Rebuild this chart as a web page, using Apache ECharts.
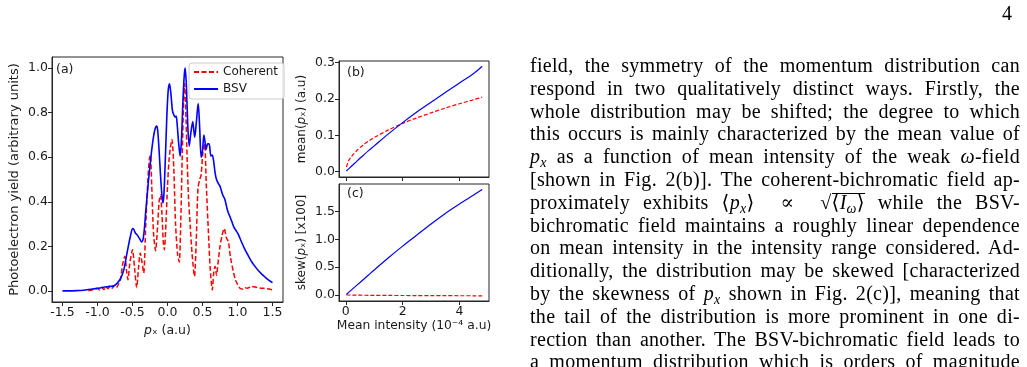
<!DOCTYPE html>
<html><head><meta charset="utf-8">
<script src="https://cdn.jsdelivr.net/npm/echarts@6/dist/echarts.min.js"></script>
<style>
html,body{margin:0;padding:0;background:#fff;}
#chart{position:absolute;left:0;top:0;width:1027px;height:367px;}
#page{position:absolute;left:0;top:0;width:1027px;height:367px;overflow:hidden;font-family:"Liberation Serif","DejaVu Serif",serif;color:#000;pointer-events:none;}
.ln{position:absolute;left:530px;width:490px;font-size:20px;line-height:22px;height:22px;white-space:nowrap;letter-spacing:0.3px;}
.ln span.t{display:inline-block;white-space:nowrap;}
sub{font-size:0.7em;vertical-align:-0.3em;line-height:0;}
.ov{display:inline-block;border-top:1px solid #000;line-height:17px;padding-top:0;}
#pg{position:absolute;left:1002px;top:2px;font-size:20px;}
</style></head>
<body>
<div id="chart"></div>
<div id="page">
<div id="pg">4</div>
<div class="ln" style="top:54px"><span class="t">field, the symmetry of the momentum distribution can</span></div>
<div class="ln" style="top:77px"><span class="t">respond in two qualitatively distinct ways. Firstly, the</span></div>
<div class="ln" style="top:100px"><span class="t">whole distribution may be shifted; the degree to which</span></div>
<div class="ln" style="top:122px"><span class="t">this occurs is mainly characterized by the mean value of</span></div>
<div class="ln" style="top:145px"><span class="t"><i>p</i><sub><i>x</i></sub> as a function of mean intensity of the weak <i>ω</i>-field</span></div>
<div class="ln" style="top:168px"><span class="t">[shown in Fig. 2(b)]. The coherent-bichromatic field ap-</span></div>
<div class="ln" style="top:191px"><span class="t">proximately exhibits ⟨<i>p</i><sub><i>x</i></sub>⟩ &nbsp;∝&nbsp; √<span class="ov">⟨<i>I</i><sub><i>ω</i></sub>⟩</span> while the BSV-</span></div>
<div class="ln" style="top:214px"><span class="t">bichromatic field maintains a roughly linear dependence</span></div>
<div class="ln" style="top:236px"><span class="t">on mean intensity in the intensity range considered. Ad-</span></div>
<div class="ln" style="top:259px"><span class="t">ditionally, the distribution may be skewed [characterized</span></div>
<div class="ln" style="top:282px"><span class="t">by the skewness of <i>p</i><sub><i>x</i></sub> shown in Fig. 2(c)], meaning that</span></div>
<div class="ln" style="top:305px"><span class="t">the tail of the distribution is more prominent in one di-</span></div>
<div class="ln" style="top:328px"><span class="t">rection than another. The BSV-bichromatic field leads to</span></div>
<div class="ln" style="top:350px"><span class="t">a momentum distribution which is orders of magnitude</span></div>
</div>
<script>
// ---- Panel (a): photoelectron yield vs p_x ----
const pxBsv = [-1.5,-1.4,-1.3,-1.2,-1.1,-1.0,-0.95,-0.9,-0.85,-0.8,-0.77,-0.74,-0.71,-0.68,-0.65,-0.62,-0.59,-0.56,-0.53,-0.50,-0.48,-0.46,-0.43,-0.40,-0.37,-0.35,-0.33,-0.31,-0.29,-0.27,-0.25,-0.23,-0.21,-0.19,-0.17,-0.155,-0.14,-0.12,-0.10,-0.08,-0.065,-0.05,-0.03,-0.01,0.01,0.03,0.05,0.07,0.09,0.11,0.125,0.14,0.16,0.18,0.20,0.22,0.24,0.253,0.27,0.29,0.31,0.33,0.36,0.38,0.39,0.41,0.43,0.44,0.46,0.48,0.50,0.52,0.54,0.55,0.575,0.595,0.62,0.64,0.66,0.68,0.70,0.73,0.75,0.77,0.79,0.82,0.85,0.87,0.89,0.92,0.95,0.98,1.01,1.05,1.1,1.15,1.2,1.25,1.3,1.35,1.4,1.45,1.5];
const yBsv = [0.0,0.0,0.001,0.003,0.007,0.011,0.014,0.017,0.019,0.021,0.022,0.028,0.038,0.05,0.07,0.1,0.15,0.2,0.245,0.28,0.275,0.26,0.25,0.235,0.22,0.23,0.28,0.36,0.43,0.5,0.56,0.62,0.67,0.71,0.735,0.74,0.72,0.63,0.52,0.43,0.395,0.44,0.6,0.78,0.9,0.93,0.88,0.81,0.79,0.78,0.785,0.74,0.66,0.605,0.68,0.85,0.97,1.0,0.92,0.74,0.65,0.7,0.76,0.71,0.69,0.75,0.82,0.84,0.73,0.6,0.63,0.70,0.66,0.635,0.66,0.66,0.605,0.61,0.58,0.53,0.50,0.48,0.47,0.45,0.43,0.41,0.37,0.35,0.335,0.31,0.285,0.27,0.255,0.225,0.19,0.16,0.132,0.11,0.09,0.074,0.06,0.047,0.037];
const pxCoh = [-1.13,-1.08,-1.04,-1.0,-0.97,-0.94,-0.91,-0.88,-0.85,-0.82,-0.79,-0.76,-0.73,-0.70,-0.67,-0.64,-0.61,-0.585,-0.565,-0.54,-0.50,-0.47,-0.44,-0.415,-0.39,-0.365,-0.34,-0.31,-0.28,-0.26,-0.245,-0.225,-0.2,-0.17,-0.14,-0.12,-0.10,-0.08,-0.06,-0.045,-0.02,0.0,0.02,0.04,0.064,0.09,0.115,0.145,0.168,0.19,0.21,0.23,0.245,0.26,0.28,0.30,0.325,0.35,0.385,0.41,0.435,0.46,0.48,0.505,0.53,0.555,0.585,0.61,0.64,0.66,0.68,0.70,0.72,0.75,0.78,0.81,0.84,0.87,0.90,0.94,0.97,1.0,1.035,1.07,1.1,1.14,1.2,1.28,1.35,1.42,1.5];
const yCoh = [0.0,0.004,0.008,0.012,0.004,0.015,0.006,0.018,0.01,0.022,0.012,0.024,0.015,0.03,0.055,0.12,0.155,0.09,0.05,0.12,0.185,0.1,0.015,0.1,0.17,0.13,0.08,0.3,0.5,0.59,0.61,0.47,0.26,0.18,0.3,0.4,0.43,0.35,0.22,0.185,0.32,0.47,0.58,0.64,0.68,0.55,0.3,0.16,0.13,0.32,0.6,0.85,0.93,0.82,0.6,0.42,0.29,0.17,0.065,0.22,0.46,0.5,0.52,0.62,0.66,0.47,0.26,0.1,0.005,0.08,0.11,0.07,0.12,0.2,0.25,0.28,0.24,0.22,0.15,0.087,0.05,0.03,0.012,0.008,0.015,0.012,0.02,0.015,0.012,0.01,0.005];
// ---- Panels (b),(c): vs mean intensity (1e-4 a.u) ----
const intensity = [0.02,0.1,0.2,0.4,0.6,0.8,1.0,1.5,2.0,2.5,3.0,3.5,4.0,4.5,4.8];
const meanCoh = [0.013,0.03,0.042,0.059,0.073,0.084,0.094,0.115,0.133,0.148,0.162,0.175,0.187,0.198,0.205];
const meanBsv = [0.002,0.008,0.015,0.03,0.044,0.058,0.071,0.104,0.135,0.164,0.191,0.218,0.244,0.27,0.29];
const skewCoh = [0,-0.002,-0.003,-0.005,-0.006,-0.007,-0.008,-0.01,-0.011,-0.012,-0.013,-0.014,-0.015,-0.016,-0.017];
const skewBsv = [0.01,0.045,0.09,0.18,0.27,0.36,0.45,0.67,0.88,1.08,1.28,1.47,1.64,1.8,1.9];
// ---- tick labels ----
const ticksAx = [-1.5,-1.0,-0.5,0.0,0.5,1.0,1.5];
const ticksAy = [0.0,0.2,0.4,0.6,0.8,1.0];
const ticksBy = [0.0,0.1,0.2,0.3];
const ticksCy = [0.0,0.5,1.0,1.5];
const ticksBCx = [0,2,4];

// justify each text line to the column width
(function(){
  document.querySelectorAll('.ln').forEach(function(ln){
    const t = ln.querySelector('.t');
    const w = t.getBoundingClientRect().width;
    const n = (t.textContent.match(/[ \u00a0]/g) || []).length;
    if (n > 0) t.style.wordSpacing = ((490 - w) / n).toFixed(2) + 'px';
  });
})();

const AX = '#262626', TXT = '#1a1a1a', FF = 'DejaVu Sans';
const RED = '#ff0000', BLUE = '#0000ff';
function pairs(xs, ys){ return xs.map((x,i)=>[x, ys[i]]); }
function gridCfg(l,t,w,h){ return {left:l, top:t, width:w, height:h, show:true, borderColor:AX, borderWidth:1, containLabel:false, outerBoundsMode:'none'}; }
function axis(gi, min, max, ticks, fmt, showLabels, extra){
  return Object.assign({
    gridIndex:gi, type:'value', min:min, max:max,
    axisLine:{show:true, onZero:false, lineStyle:{color:AX, width:1}},
    splitLine:{show:false},
    axisTick:{show:true, customValues:ticks, length:4, inside:false, lineStyle:{color:AX, width:1}},
    axisLabel:{show:showLabels, customValues:ticks, formatter:fmt, fontSize:12.5, color:TXT, fontFamily:FF, margin:4},
  }, extra||{});
}
function nameStyle(fs){ return {fontSize:fs, color:TXT, fontFamily:FF,
  rich:{n:{fontSize:fs, color:TXT, fontFamily:FF}, i:{fontSize:fs, color:TXT, fontFamily:FF, fontStyle:'italic'}}}; }
const f1 = v => v.toFixed(1);

const chart = echarts.init(document.getElementById('chart'), null, {renderer:'canvas'});
chart.setOption({
  animation:false,
  backgroundColor:'#ffffff',
  grid:[gridCfg(52,57,231,245), gridCfg(339,61,150,116), gridCfg(339,184,150,117)],
  xAxis:[
    axis(0,-1.65,1.65,ticksAx,f1,true,{name:'{i|p}{n|ₓ (a.u)}', nameLocation:'middle', nameGap:19, nameTextStyle:nameStyle(12.5)}),
    axis(1,-0.24,5.04,ticksBCx,v=>String(v),false),
    axis(2,-0.24,5.04,ticksBCx,v=>String(v),true,{name:'{n|Mean intensity (10⁻⁴ a.u)}', nameLocation:'middle', nameGap:19, nameTextStyle:nameStyle(12.3)})
  ],
  yAxis:[
    axis(0,-0.05,1.05,ticksAy,f1,true,{name:'{n|Photoelectron yield (arbitrary units)}', nameLocation:'middle', nameRotate:90, nameGap:31, nameTextStyle:nameStyle(13)}),
    axis(1,-0.0145,0.3045,ticksBy,f1,true,{name:'{n|mean(}{i|p}{n|ₓ) (a.u)}', nameLocation:'middle', nameRotate:90, nameGap:31, nameTextStyle:nameStyle(12)}),
    axis(2,-0.11,2.0,ticksCy,f1,true,{name:'{n|skew(}{i|p}{n|ₓ) [x100]}', nameLocation:'middle', nameRotate:90, nameGap:31, nameTextStyle:nameStyle(12)})
  ],
  legend:{
    data:['Coherent','BSV'], orient:'vertical', left:189, top:63,
    padding:[3,6,4,4], itemWidth:24, itemHeight:12, itemGap:5,
    itemStyle:{opacity:0},
    backgroundColor:'rgba(255,255,255,0.85)', borderColor:'#cccccc', borderWidth:1, borderRadius:3,
    textStyle:{fontSize:12, color:TXT, fontFamily:FF}
  },
  graphic:[
    {type:'text', left:56, top:63, style:{text:'(a)', fontSize:12.5, fill:TXT, fontFamily:FF}},
    {type:'text', left:347, top:66, style:{text:'(b)', fontSize:12.5, fill:TXT, fontFamily:FF}},
    {type:'text', left:347, top:187, style:{text:'(c)', fontSize:12.5, fill:TXT, fontFamily:FF}}
  ],
  series:[
    {type:'line', name:'Coherent', xAxisIndex:0, yAxisIndex:0, data:pairs(pxCoh,yCoh), symbol:'none', showSymbol:false, smooth:0.25,
      lineStyle:{color:RED, width:1.5, type:[5,2.5]}, itemStyle:{color:RED}, z:2},
    {type:'line', name:'BSV', xAxisIndex:0, yAxisIndex:0, data:pairs(pxBsv,yBsv), symbol:'none', showSymbol:false, smooth:0.25,
      lineStyle:{color:BLUE, width:1.6}, itemStyle:{color:BLUE}, z:3},
    {type:'line', name:'Coherent', xAxisIndex:1, yAxisIndex:1, data:pairs(intensity,meanCoh), symbol:'none', showSymbol:false, smooth:0.3,
      lineStyle:{color:RED, width:1.2, type:[4,2]}, itemStyle:{color:RED}},
    {type:'line', name:'BSV', xAxisIndex:1, yAxisIndex:1, data:pairs(intensity,meanBsv), symbol:'none', showSymbol:false, smooth:0.3,
      lineStyle:{color:BLUE, width:1.2}, itemStyle:{color:BLUE}},
    {type:'line', name:'Coherent', xAxisIndex:2, yAxisIndex:2, data:pairs(intensity,skewCoh), symbol:'none', showSymbol:false, smooth:0.3,
      lineStyle:{color:RED, width:1.2, type:[4,2]}, itemStyle:{color:RED}},
    {type:'line', name:'BSV', xAxisIndex:2, yAxisIndex:2, data:pairs(intensity,skewBsv), symbol:'none', showSymbol:false, smooth:0.3,
      lineStyle:{color:BLUE, width:1.2}, itemStyle:{color:BLUE}}
  ]
});
</script>
</body></html>
